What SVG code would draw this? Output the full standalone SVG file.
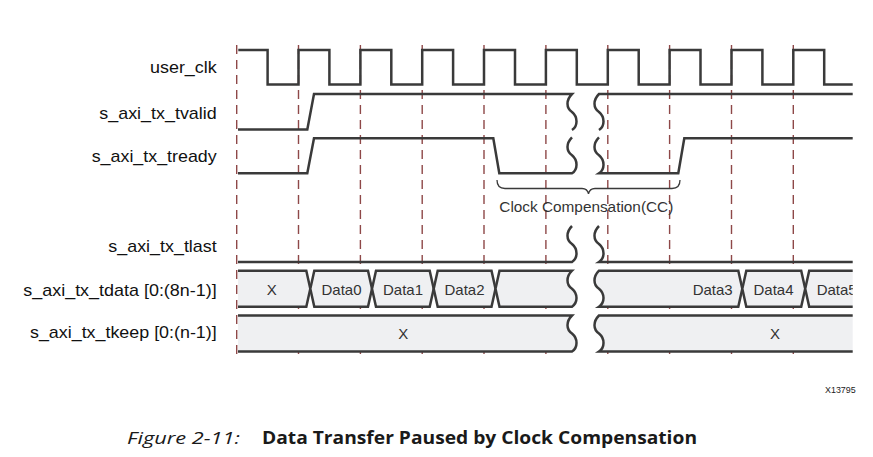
<svg xmlns="http://www.w3.org/2000/svg" width="873" height="457" viewBox="0 0 873 457">
<style>
.grid{stroke:#8e4848;stroke-width:1.4;stroke-dasharray:9 6;fill:none}
.sig{fill:none;stroke:#3a3a3a;stroke-width:2.5;stroke-linejoin:miter}
.bus{fill:#eff0f2;stroke:#3a3a3a;stroke-width:2.5;stroke-linejoin:miter}
.brace{fill:none;stroke:#3a3a3a;stroke-width:1.3}
.lbl{font-family:"Liberation Sans",Arial,sans-serif;font-size:17px;fill:#111;text-anchor:end}
.dt{font-family:"Liberation Sans",Arial,sans-serif;font-size:15px;fill:#333}
.cap{font-family:"Open Sans","Noto Sans",sans-serif;font-size:17px;fill:#1a1a1a}
</style>
<defs>
<clipPath id="clipR"><rect x="0" y="0" width="852.7" height="457"/></clipPath>
</defs>
<rect width="873" height="457" fill="#ffffff"/>

<g id="gridlines">
<path class="grid" d="M236.7,45V360M298.5,45V360M360.4,45V360M422.2,45V360M484,45V360M545.9,45V360M607.8,45V360M669.6,45V360M731.5,45V360M793.3,45V360"/>
</g>

<g id="labels">
<text class="lbl" x="216.7" y="73.3" textLength="66.7" lengthAdjust="spacingAndGlyphs">user_clk</text>
<text class="lbl" x="216.7" y="119.3" textLength="117.4" lengthAdjust="spacingAndGlyphs">s_axi_tx_tvalid</text>
<text class="lbl" x="216.7" y="161.7" textLength="125" lengthAdjust="spacingAndGlyphs">s_axi_tx_tready</text>
<text class="lbl" x="216.7" y="251.7" textLength="108.4" lengthAdjust="spacingAndGlyphs">s_axi_tx_tlast</text>
<text class="lbl" x="216.7" y="295.7" textLength="193.4" lengthAdjust="spacingAndGlyphs">s_axi_tx_tdata [0:(8n-1)]</text>
<text class="lbl" x="216.7" y="338.3" textLength="186.7" lengthAdjust="spacingAndGlyphs">s_axi_tx_tkeep [0:(n-1)]</text>
</g>

<g id="user_clk">
<path class="sig" d="M238.3,50H267.6V84.5H298.5V50H329.4V84.5H360.4V50H391.3V84.5H422.2V50H453.1V84.5H484V50H515V84.5H545.9V50H576.8V84.5H607.8V50H638.7V84.5H669.6V50H700.5V84.5H731.5V50H762.4V84.5H793.3V50H824.2V84.5H852.7"/>
</g>

<g id="tvalid">
<path class="sig" d="M238,129.5H307.3L314,94H572C566,100 566,108 572,112C578,117 578,126 572,130"/>
<path class="sig" d="M599,130C605,126 605,117 599,112C593,108 593,100 599,94H852.7"/>
</g>

<g id="tready">
<path class="sig" d="M238,173.3H307.3L314,138.3H493.3L499.3,173.3H572C578,169.3 578,160.3 572,155.3C566,151.3 566,143.3 572,137.3"/>
<path class="sig" d="M599,137.3C593,143.3 593,151.3 599,155.3C605,160.3 605,169.3 599,173.3H678.3L684.3,138.3H852.7"/>
</g>

<g id="cc_brace">
<path class="brace" d="M497,180Q497,188.5 505,188.5H582Q587.5,188.5 588.5,194Q589.5,188.5 595,188.5H672Q680,188.5 680,180"/>
<text class="dt" x="499.3" y="211.7" textLength="174" lengthAdjust="spacingAndGlyphs">Clock Compensation(CC)</text>
</g>

<g id="tlast">
<path class="sig" d="M238,262H572C578,258 578,249 572,244C566,240 566,232 572,226"/>
<path class="sig" d="M599,226C593,232 593,240 599,244C605,249 605,258 599,262H852.7"/>
</g>

<g id="tdata">
<path class="bus" d="M238,270.7H306.3L310.3,288.7L306.3,306.7H238"/>
<path class="bus" d="M310.3,288.7L314.3,270.7H368L372,288.7L368,306.7H314.3Z"/>
<path class="bus" d="M372,288.7L376,270.7H429.7L433.7,288.7L429.7,306.7H376Z"/>
<path class="bus" d="M433.7,288.7L437.7,270.7H491.5L495.5,288.7L491.5,306.7H437.7Z"/>
<path class="bus" d="M495.5,288.7L499.5,270.7H572C566,276.7 566,284.7 572,288.7C578,293.7 578,302.7 572,306.7H499.5Z"/>
<path class="bus" d="M738.3,270.7H599C593,276.7 593,284.7 599,288.7C605,293.7 605,302.7 599,306.7H738.3L742.3,288.7Z"/>
<path class="bus" d="M742.3,288.7L746.3,270.7H801.2L805.2,288.7L801.2,306.7H746.3Z"/>
<path class="bus" d="M852.7,270.7H809.2L805.2,288.7L809.2,306.7H852.7"/>
<text class="dt" x="271.7" y="295" text-anchor="middle">X</text>
<text class="dt" x="341.5" y="295" text-anchor="middle">Data0</text>
<text class="dt" x="403" y="295" text-anchor="middle">Data1</text>
<text class="dt" x="464.5" y="295" text-anchor="middle">Data2</text>
<text class="dt" x="732.7" y="295" text-anchor="end">Data3</text>
<text class="dt" x="773.5" y="295" text-anchor="middle">Data4</text>
<text class="dt" x="816.7" y="295" clip-path="url(#clipR)">Data5</text>
</g>

<g id="tkeep">
<path class="bus" d="M238,315.5H572C566,321.5 566,329.5 572,333.5C578,338.5 578,347.5 572,351.5H238"/>
<path class="bus" d="M852.7,315.5H599C593,321.5 593,329.5 599,333.5C605,338.5 605,347.5 599,351.5H852.7"/>
<text class="dt" x="403.3" y="338.7" text-anchor="middle">X</text>
<text class="dt" x="775" y="338.7" text-anchor="middle">X</text>
</g>

<g id="figure_id">
<text x="825" y="393.3" font-family="Liberation Sans,Arial,sans-serif" font-size="8.5" fill="#222" textLength="30.7" lengthAdjust="spacingAndGlyphs">X13795</text>
</g>

<g id="caption">
<text class="cap" x="127" y="444" font-style="italic" textLength="113" lengthAdjust="spacingAndGlyphs">Figure 2-11:</text>
<text class="cap" x="262" y="444" font-weight="bold" textLength="435" lengthAdjust="spacingAndGlyphs">Data Transfer Paused by Clock Compensation</text>
</g>
</svg>
